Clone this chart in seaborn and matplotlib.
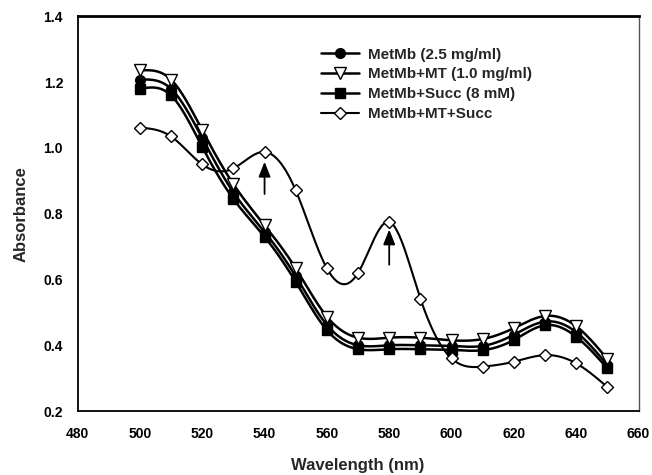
import numpy as np
import pandas as pd
import matplotlib
matplotlib.use("Agg")
import matplotlib.pyplot as plt
import seaborn as sns
from matplotlib.lines import Line2D

wavelength = [500, 510, 520, 530, 540, 550, 560, 570, 580, 590, 600, 610, 620, 630, 640, 650]
metmb = [1.208, 1.180, 1.030, 0.865, 0.745, 0.610, 0.462, 0.400, 0.400, 0.400, 0.398, 0.398, 0.432, 0.472, 0.440, 0.340]
metmb_mt = [1.236, 1.208, 1.054, 0.890, 0.765, 0.634, 0.487, 0.423, 0.423, 0.423, 0.415, 0.419, 0.452, 0.489, 0.458, 0.358]
metmb_succ = [1.180, 1.160, 1.003, 0.845, 0.730, 0.593, 0.446, 0.388, 0.388, 0.388, 0.386, 0.385, 0.416, 0.461, 0.426, 0.330]
metmb_mt_succ = [1.062, 1.035, 0.950, 0.938, 0.988, 0.871, 0.634, 0.620, 0.775, 0.542, 0.360, 0.335, 0.350, 0.370, 0.345, 0.273]
series_names = ["MetMb (2.5 mg/ml)", "MetMb+MT (1.0 mg/ml)", "MetMb+Succ (8 mM)", "MetMb+MT+Succ"]
arrow_x = [540, 580]


def natural_spline(x, y, n=400):
    x = np.asarray(x, float)
    y = np.asarray(y, float)
    k = len(x)
    h = np.diff(x)
    A = np.zeros((k, k))
    b = np.zeros(k)
    A[0, 0] = 1
    A[-1, -1] = 1
    for i in range(1, k - 1):
        A[i, i - 1] = h[i - 1]
        A[i, i] = 2 * (h[i - 1] + h[i])
        A[i, i + 1] = h[i]
        b[i] = 3 * ((y[i + 1] - y[i]) / h[i] - (y[i] - y[i - 1]) / h[i - 1])
    c = np.linalg.solve(A, b)
    xs = np.linspace(x[0], x[-1], n)
    idx = np.clip(np.searchsorted(x, xs) - 1, 0, k - 2)
    dx = xs - x[idx]
    bb = (y[idx + 1] - y[idx]) / h[idx] - h[idx] * (2 * c[idx] + c[idx + 1]) / 3
    d = (c[idx + 1] - c[idx]) / (3 * h[idx])
    ys = y[idx] + bb * dx + c[idx] * dx ** 2 + d * dx ** 3
    return xs, ys


sns.set_style("white")
plt.rcParams["font.family"] = ["Liberation Sans", "DejaVu Sans"]
plt.rcParams["font.weight"] = "bold"

fig = plt.figure(figsize=(6.52, 4.75), dpi=100)
ax = fig.add_axes([0.119, 0.1347, 0.8603, 0.8306])

data = [metmb, metmb_mt, metmb_succ, metmb_mt_succ]
markers = ["o", "v", "s", "D"]
faces = ["black", "white", "black", "white"]
msizes = [7, 8, 6.5, 6.5]
lws = [1.8, 1.8, 1.8, 1.5]
order = [3, 1, 0, 2]
for i in order:
    xs, ys = natural_spline(wavelength, data[i])
    sns.lineplot(x=xs, y=ys, ax=ax, color="black", lw=lws[i], sort=False, zorder=2 + i)
    ax.plot(wavelength, data[i], linestyle="none", marker=markers[i], markersize=msizes[i],
            markerfacecolor=faces[i], markeredgecolor="black", markeredgewidth=1.0, zorder=6 + i)

# arrows
for ax_x, (y0, y1) in zip(arrow_x, [(0.860, 0.958), (0.645, 0.752)]):
    ax.annotate("", xy=(ax_x, y1), xytext=(ax_x, y0),
                arrowprops=dict(arrowstyle="-|>,head_width=0.36,head_length=0.9", color="black",
                                lw=1.3, shrinkA=0, shrinkB=0))

ax.set_xlim(480, 660)
ax.set_ylim(0.2, 1.4)
ax.set_xticks(np.arange(480, 661, 20))
ax.set_yticks(np.arange(0.2, 1.41, 0.2))
ax.set_yticklabels([f"{v:.1f}" for v in np.arange(0.2, 1.41, 0.2)])
ax.tick_params(direction="out", length=4.5, width=1, labelsize=10, colors="black")
for lab in ax.get_xticklabels() + ax.get_yticklabels():
    lab.set_fontweight("bold")
ax.tick_params(axis="x", pad=7)
ax.tick_params(axis="y", pad=6)
ax.set_xlabel("Wavelength (nm)", fontsize=12, fontweight="bold", labelpad=12)
ax.set_ylabel("Absorbance", fontsize=12, fontweight="bold", labelpad=11)

for s in ["left", "bottom", "top"]:
    ax.spines[s].set_color("black")
    ax.spines[s].set_linewidth(1.3)
ax.spines["top"].set_linewidth(2)
ax.spines["right"].set_color("#555555")
ax.spines["right"].set_linewidth(1.0)

handles = [Line2D([0], [0], color="black", lw=lws[i], marker=markers[i], markersize=msizes[i],
                  markerfacecolor=faces[i], markeredgecolor="black") for i in range(4)]
leg = ax.legend(handles, series_names, loc="upper left", bbox_to_anchor=(0.434, 0.921), frameon=False,
                prop={"weight": "bold", "size": 11}, handlelength=2.5, handletextpad=0.55,
                labelspacing=0.38, borderaxespad=0, borderpad=0)

fig.savefig("out.png", dpi=100)
